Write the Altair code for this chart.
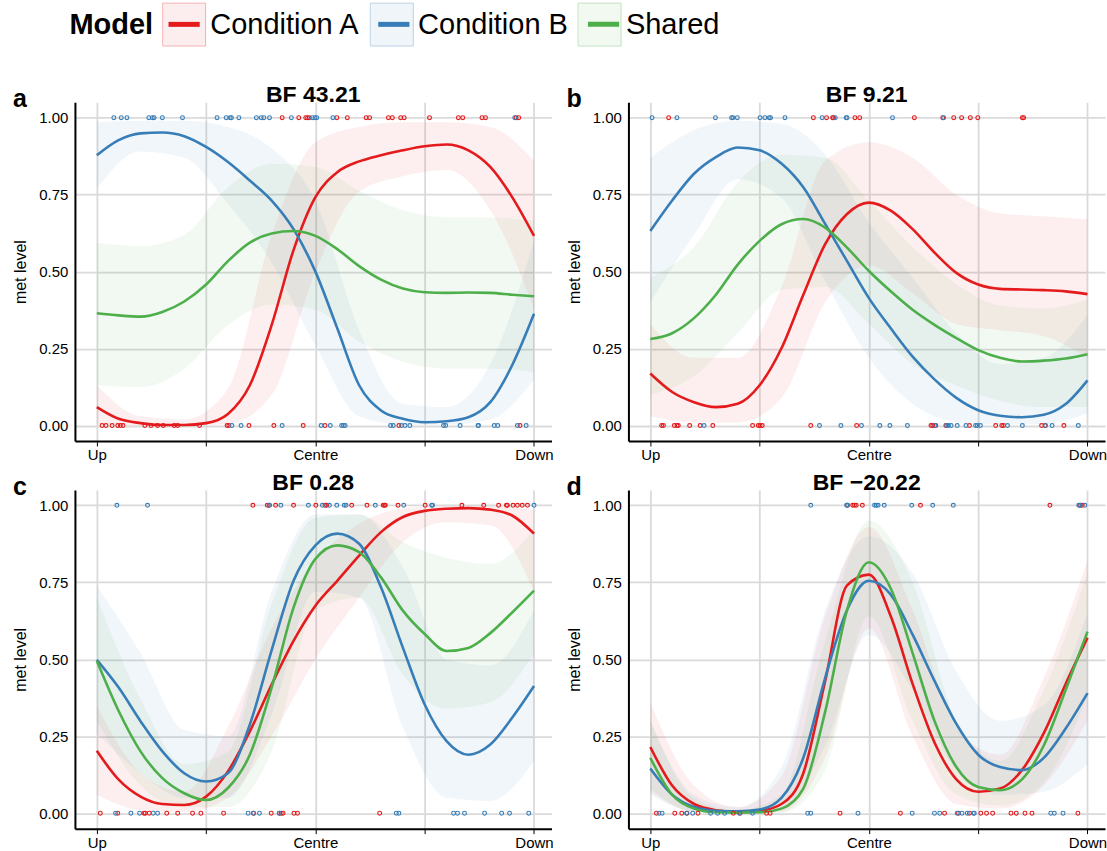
import altair as alt
import pandas as pd

FONT = "Liberation Sans"

models = ["Condition A", "Condition B", "Shared"]
model_colors = ["#E41A1C", "#377EB8", "#4DAF4A"]
panel_letters = ["a", "b", "c", "d"]
panel_titles = ["BF 43.21", "BF 9.21", "BF 0.28", "BF \u221220.22"]
x_tick_values = [0, 0.25, 0.5, 0.75, 1]
x_tick_labels = ["Up", "", "Centre", "", "Down"]
y_tick_values = [0, 0.25, 0.5, 0.75, 1]

# x positions of the fitted curves and of the ribbons
x_grid = [0.0, 0.05, 0.1, 0.15, 0.2, 0.25, 0.3, 0.35, 0.4, 0.45, 0.5,
          0.55, 0.6, 0.65, 0.7, 0.75, 0.8, 0.85, 0.9, 0.95, 1.0]
band_x = [0.0, 0.1, 0.2, 0.3, 0.4, 0.5, 0.6, 0.7, 0.8, 0.9, 1.0]

# ---------------- panel a ----------------
a_cond_a = [0.060, 0.022, 0.008, 0.002, 0.002, 0.008, 0.038, 0.131, 0.327, 0.570, 0.742,
            0.823, 0.858, 0.878, 0.894, 0.907, 0.913, 0.894, 0.840, 0.742, 0.616]
a_cond_b = [0.878, 0.927, 0.949, 0.952, 0.940, 0.905, 0.856, 0.796, 0.731, 0.638, 0.500,
            0.316, 0.131, 0.049, 0.022, 0.011, 0.014, 0.027, 0.076, 0.196, 0.363]
a_shared = [0.365, 0.358, 0.354, 0.369, 0.403, 0.458, 0.534, 0.594, 0.624, 0.632, 0.616,
            0.573, 0.518, 0.474, 0.445, 0.433, 0.431, 0.432, 0.431, 0.425, 0.420]
a_cond_a_lo = [0.005, 0.0, 0.0, 0.005, 0.10, 0.50, 0.76, 0.81, 0.83, 0.70, 0.38]
a_cond_a_hi = [0.13, 0.03, 0.02, 0.12, 0.62, 0.92, 0.97, 0.985, 0.985, 0.97, 0.86]
a_cond_b_lo = [0.77, 0.89, 0.87, 0.72, 0.53, 0.26, 0.03, 0.003, 0.003, 0.02, 0.15]
a_cond_b_hi = [0.985, 0.99, 0.99, 0.97, 0.90, 0.73, 0.31, 0.07, 0.06, 0.20, 0.60]
a_shared_lo = [0.131, 0.125, 0.185, 0.327, 0.393, 0.376, 0.273, 0.207, 0.185, 0.185, 0.174]
a_shared_hi = [0.594, 0.583, 0.62, 0.774, 0.85, 0.84, 0.763, 0.70, 0.676, 0.676, 0.665]
a_pts_a_top = [0.424, 0.462, 0.478, 0.482, 0.486, 0.549, 0.573, 0.616, 0.624, 0.667, 0.676,
               0.695, 0.703, 0.761, 0.827, 0.837, 0.881, 0.889, 0.959, 0.965]
a_pts_a_bottom = [0.012, 0.021, 0.035, 0.048, 0.054, 0.060, 0.110, 0.124, 0.139, 0.152, 0.177,
                  0.185, 0.235, 0.298, 0.302, 0.348, 0.405, 0.472, 0.522, 0.691, 0.968]
a_pts_b_top = [0.039, 0.056, 0.069, 0.119, 0.127, 0.131, 0.150, 0.196, 0.275, 0.296, 0.305,
               0.308, 0.325, 0.365, 0.376, 0.382, 0.395, 0.445, 0.493, 0.499, 0.503, 0.540, 0.956]
a_pts_b_bottom = [0.309, 0.330, 0.424, 0.513, 0.534, 0.560, 0.564, 0.568, 0.672, 0.678, 0.697,
                  0.705, 0.716, 0.793, 0.798, 0.831, 0.872, 0.873, 0.909, 0.917, 0.962, 0.982]

# ---------------- panel b ----------------
b_cond_a = [0.169, 0.109, 0.076, 0.060, 0.071, 0.131, 0.251, 0.425, 0.589, 0.687, 0.724,
            0.698, 0.638, 0.562, 0.496, 0.458, 0.444, 0.442, 0.440, 0.436, 0.427]
b_cond_b = [0.632, 0.731, 0.818, 0.872, 0.903, 0.894, 0.851, 0.774, 0.655, 0.534, 0.414,
            0.316, 0.224, 0.150, 0.090, 0.050, 0.032, 0.027, 0.035, 0.070, 0.147]
b_shared = [0.281, 0.300, 0.349, 0.425, 0.523, 0.600, 0.654, 0.671, 0.643, 0.578, 0.502,
            0.436, 0.376, 0.327, 0.284, 0.245, 0.220, 0.208, 0.211, 0.218, 0.232]
b_cond_a_lo = [0.03, 0.01, 0.01, 0.09, 0.40, 0.52, 0.43, 0.33, 0.31, 0.29, 0.22]
b_cond_a_hi = [0.33, 0.22, 0.22, 0.45, 0.86, 0.92, 0.87, 0.75, 0.69, 0.68, 0.67]
b_cond_b_lo = [0.40, 0.62, 0.80, 0.74, 0.47, 0.22, 0.07, 0.012, 0.003, 0.005, 0.04]
b_cond_b_hi = [0.87, 0.96, 0.99, 0.98, 0.88, 0.66, 0.48, 0.30, 0.20, 0.22, 0.36]
b_shared_lo = [0.10, 0.16, 0.30, 0.44, 0.45, 0.33, 0.20, 0.13, 0.08, 0.06, 0.06]
b_shared_hi = [0.48, 0.58, 0.79, 0.88, 0.87, 0.73, 0.58, 0.46, 0.39, 0.38, 0.41]
b_pts_a_top = [0.042, 0.373, 0.403, 0.417, 0.419, 0.468, 0.479, 0.604, 0.669, 0.694, 0.712,
               0.732, 0.749, 0.851, 0.854]
b_pts_a_bottom = [0.026, 0.030, 0.055, 0.061, 0.064, 0.090, 0.114, 0.143, 0.234, 0.247, 0.251,
                  0.256, 0.367, 0.472, 0.642, 0.646, 0.653, 0.676, 0.730, 0.790, 0.804, 0.808,
                  0.895, 0.903, 0.946]
b_pts_b_top = [0.004, 0.061, 0.149, 0.186, 0.189, 0.199, 0.251, 0.262, 0.272, 0.275, 0.308,
               0.393, 0.423, 0.448, 0.450, 0.554, 0.671]
b_pts_b_bottom = [0.123, 0.387, 0.436, 0.483, 0.525, 0.548, 0.588, 0.651, 0.678, 0.682, 0.688,
                  0.702, 0.722, 0.744, 0.748, 0.755, 0.817, 0.851, 0.904, 0.919, 0.979]

# ---------------- panel c ----------------
c_cond_a = [0.203, 0.109, 0.054, 0.030, 0.027, 0.054, 0.136, 0.266, 0.418, 0.560, 0.674,
            0.755, 0.837, 0.913, 0.962, 0.982, 0.989, 0.991, 0.986, 0.967, 0.908]
c_cond_b = [0.498, 0.408, 0.299, 0.201, 0.130, 0.103, 0.130, 0.288, 0.530, 0.755, 0.870,
            0.908, 0.875, 0.734, 0.538, 0.353, 0.234, 0.190, 0.223, 0.310, 0.413]
c_shared = [0.495, 0.332, 0.201, 0.114, 0.065, 0.043, 0.082, 0.190, 0.408, 0.668, 0.826,
            0.870, 0.848, 0.766, 0.658, 0.582, 0.527, 0.537, 0.585, 0.652, 0.723]
c_cond_a_lo = [0.06, 0.01, 0.004, 0.05, 0.25, 0.50, 0.70, 0.88, 0.945, 0.935, 0.72]
c_cond_a_hi = [0.35, 0.13, 0.07, 0.28, 0.60, 0.82, 0.94, 0.99, 0.998, 0.998, 0.985]
c_cond_b_lo = [0.26, 0.13, 0.05, 0.05, 0.32, 0.72, 0.70, 0.28, 0.05, 0.04, 0.17]
c_cond_b_hi = [0.74, 0.52, 0.27, 0.25, 0.72, 0.97, 0.97, 0.80, 0.50, 0.48, 0.66]
c_shared_lo = [0.30, 0.09, 0.02, 0.02, 0.20, 0.66, 0.70, 0.45, 0.34, 0.36, 0.52]
c_shared_hi = [0.70, 0.37, 0.16, 0.20, 0.68, 0.96, 0.97, 0.88, 0.83, 0.81, 0.92]
c_pts_a_top = [0.357, 0.390, 0.395, 0.409, 0.450, 0.501, 0.522, 0.526, 0.583, 0.618, 0.655,
               0.658, 0.660, 0.689, 0.751, 0.835, 0.885, 0.919, 0.937, 0.939, 0.952, 0.962,
               0.973, 0.985]
c_pts_a_bottom = [0.008, 0.048, 0.108, 0.111, 0.120, 0.160, 0.185, 0.219, 0.238, 0.290, 0.358,
                  0.399, 0.418, 0.422, 0.426, 0.451, 0.459, 0.647]
c_pts_b_top = [0.046, 0.116, 0.394, 0.421, 0.484, 0.516, 0.532, 0.549, 0.566, 0.570, 0.637,
               0.702, 0.766, 0.768, 1.000]
c_pts_b_bottom = [0.043, 0.078, 0.098, 0.129, 0.139, 0.346, 0.359, 0.372, 0.417, 0.685, 0.691,
                  0.816, 0.825, 0.841, 0.887, 0.926, 0.944, 0.988]

# ---------------- panel d ----------------
d_cond_a = [0.215, 0.090, 0.030, 0.010, 0.005, 0.008, 0.030, 0.130, 0.430, 0.740, 0.775,
            0.640, 0.420, 0.230, 0.110, 0.070, 0.080, 0.140, 0.260, 0.420, 0.570]
d_cond_b = [0.145, 0.060, 0.020, 0.008, 0.006, 0.012, 0.050, 0.180, 0.440, 0.660, 0.755,
            0.710, 0.580, 0.430, 0.290, 0.190, 0.150, 0.140, 0.180, 0.275, 0.390]
d_shared = [0.180, 0.060, 0.015, 0.003, 0.002, 0.003, 0.015, 0.080, 0.330, 0.660, 0.815,
            0.730, 0.520, 0.300, 0.150, 0.085, 0.075, 0.110, 0.220, 0.400, 0.590]
d_cond_a_lo = [0.07, 0.005, 0.0, 0.005, 0.18, 0.60, 0.25, 0.03, 0.015, 0.09, 0.30]
d_cond_a_hi = [0.36, 0.09, 0.02, 0.12, 0.64, 0.93, 0.66, 0.28, 0.19, 0.44, 0.82]
d_cond_b_lo = [0.06, 0.005, 0.001, 0.01, 0.22, 0.58, 0.40, 0.14, 0.06, 0.07, 0.16]
d_cond_b_hi = [0.30, 0.06, 0.02, 0.15, 0.66, 0.90, 0.78, 0.46, 0.30, 0.35, 0.65]
d_shared_lo = [0.08, 0.003, 0.0, 0.002, 0.14, 0.64, 0.30, 0.06, 0.025, 0.10, 0.38]
d_shared_hi = [0.30, 0.05, 0.01, 0.06, 0.56, 0.95, 0.75, 0.30, 0.17, 0.40, 0.78]
d_pts_a_top = [0.451, 0.463, 0.467, 0.471, 0.485, 0.618, 0.914, 0.984, 0.988]
d_pts_a_bottom = [0.014, 0.056, 0.072, 0.084, 0.109, 0.190, 0.205, 0.266, 0.274, 0.434, 0.572,
                  0.673, 0.705, 0.730, 0.756, 0.769, 0.783, 0.825, 0.837, 0.857, 0.873, 0.978]
d_pts_b_top = [0.367, 0.449, 0.451, 0.513, 0.517, 0.521, 0.535, 0.598, 0.646, 0.693, 0.980,
               0.982, 0.994]
d_pts_b_bottom = [0.020, 0.027, 0.083, 0.097, 0.138, 0.154, 0.170, 0.204, 0.234, 0.360, 0.367,
                  0.475, 0.599, 0.650, 0.662, 0.702, 0.713, 0.725, 0.739, 0.741, 0.916, 0.924,
                  0.944]

panels = [
    ([a_cond_a, a_cond_b, a_shared],
     [(a_cond_a_lo, a_cond_a_hi), (a_cond_b_lo, a_cond_b_hi), (a_shared_lo, a_shared_hi)],
     [(a_pts_a_top, a_pts_a_bottom), (a_pts_b_top, a_pts_b_bottom)]),
    ([b_cond_a, b_cond_b, b_shared],
     [(b_cond_a_lo, b_cond_a_hi), (b_cond_b_lo, b_cond_b_hi), (b_shared_lo, b_shared_hi)],
     [(b_pts_a_top, b_pts_a_bottom), (b_pts_b_top, b_pts_b_bottom)]),
    ([c_cond_a, c_cond_b, c_shared],
     [(c_cond_a_lo, c_cond_a_hi), (c_cond_b_lo, c_cond_b_hi), (c_shared_lo, c_shared_hi)],
     [(c_pts_a_top, c_pts_a_bottom), (c_pts_b_top, c_pts_b_bottom)]),
    ([d_cond_a, d_cond_b, d_shared],
     [(d_cond_a_lo, d_cond_a_hi), (d_cond_b_lo, d_cond_b_hi), (d_shared_lo, d_shared_hi)],
     [(d_pts_a_top, d_pts_a_bottom), (d_pts_b_top, d_pts_b_bottom)]),
]

PANEL_W = 477
PANEL_H = 339

label_expr = "".join(
    f"datum.value == {v} ? '{l}' : " for v, l in zip(x_tick_values, x_tick_labels)
) + "''"

x_scale = alt.Scale(domain=[-0.05, 1.04], nice=False, zero=False)
y_scale = alt.Scale(domain=[-0.05, 1.05], nice=False, zero=False)

x_axis = alt.Axis(values=x_tick_values, labelExpr=label_expr, title=None, grid=True,
                  ticks=True, tickSize=5, tickWidth=1, tickColor="black",
                  labelPadding=2, labelAngle=0)
y_axis = alt.Axis(values=y_tick_values, format=".2f", title="met level", grid=True,
                  ticks=False, labelPadding=7, titlePadding=10)

LEG_FONT_SIZE = 29
LEG_X = -5.5
LEG_Y = -100
LEG_TITLE_PAD = 9
LEG_LABEL_OFFSET = 4
LEG_COL_PAD = 8
# advance widths (Arial/Liberation metrics, em units) used to align the key overlays
TITLE_EM = 2.889        # "Model" in bold
LABEL_EM = 5.169        # "Condition A" / "Condition B"

# visible legend: light key background (from the ribbons) with title and labels
fill_legend = alt.Legend(
    title="Model", orient="none", legendX=LEG_X, legendY=LEG_Y,
    direction="horizontal", titleOrient="left", titlePadding=LEG_TITLE_PAD,
    titleFont=FONT, titleFontSize=LEG_FONT_SIZE, titleFontWeight="bold",
    titleColor="black", labelFont=FONT, labelFontSize=LEG_FONT_SIZE,
    labelColor="black", labelOffset=LEG_LABEL_OFFSET, labelLimit=500,
    columnPadding=LEG_COL_PAD, padding=0,
    symbolType="square", symbolSize=1849, symbolStrokeWidth=1,
    symbolStrokeColor="transparent", symbolOpacity=0.07,
)

overlay_common = dict(
    title=None, orient="none",
    legendX=LEG_X + TITLE_EM * LEG_FONT_SIZE + LEG_TITLE_PAD, legendY=LEG_Y,
    direction="horizontal", labelExpr="''", labelOffset=LEG_LABEL_OFFSET,
    labelFontSize=LEG_FONT_SIZE, labelFont=FONT,
    columnPadding=LABEL_EM * LEG_FONT_SIZE + LEG_COL_PAD, padding=0,
)
# key border (from the observation points)
border_legend = alt.Legend(
    symbolType="square", symbolSize=1849, symbolStrokeWidth=1, symbolOpacity=0.3,
    **overlay_common,
)
# thick line in the key (from the fitted curves)
stroke_legend = alt.Legend(
    symbolType="M-0.8,0H0.8", symbolSize=1521, symbolStrokeWidth=5,
    **overlay_common,
)

fill_scale = alt.Scale(range=model_colors)
stroke_scale = alt.Scale(range=model_colors)
point_scale = alt.Scale(domain=models, range=model_colors)


def build_panel(idx):
    curves, bands, pts = panels[idx]
    line_rows = []
    for m, ys in zip(models, curves):
        for x, y in zip(x_grid, ys):
            line_rows.append({"x": x, "y": y, "model": m})
    band_rows = []
    for m, (lo, hi) in zip(models, bands):
        for x, l, h in zip(band_x, lo, hi):
            band_rows.append({"x": x, "lo": l, "hi": h, "band": m})
    pt_rows = []
    for m, (top, bottom) in zip(models[:2], pts):
        for x in top:
            pt_rows.append({"x": x, "y": 1.0, "obs": m})
        for x in bottom:
            pt_rows.append({"x": x, "y": 0.0, "obs": m})

    area = alt.Chart(pd.DataFrame(band_rows)).mark_area(
        interpolate="monotone", fillOpacity=0.07, opacity=1, strokeWidth=0
    ).encode(
        x=alt.X("x:Q", scale=x_scale, axis=x_axis),
        y=alt.Y("lo:Q", scale=y_scale, axis=y_axis),
        y2=alt.Y2("hi:Q"),
        fill=alt.Fill("band:N", scale=fill_scale, legend=fill_legend),
    )
    line = alt.Chart(pd.DataFrame(line_rows)).mark_line(
        interpolate="monotone", strokeWidth=2.6
    ).encode(
        x=alt.X("x:Q", scale=x_scale, axis=x_axis),
        y=alt.Y("y:Q", scale=y_scale, axis=y_axis),
        stroke=alt.Stroke("model:N", scale=stroke_scale, legend=stroke_legend),
    )
    points = alt.Chart(pd.DataFrame(pt_rows)).mark_point(
        shape="circle", filled=False, size=15, strokeWidth=1.1, opacity=1
    ).encode(
        x=alt.X("x:Q", scale=x_scale, axis=x_axis),
        y=alt.Y("y:Q", scale=y_scale, axis=y_axis),
        color=alt.Color("obs:N", scale=point_scale, legend=border_legend),
    )
    letter = alt.Chart(pd.DataFrame({"t": [panel_letters[idx]]})).mark_text(
        align="left", baseline="alphabetic", fontSize=25, fontWeight="bold",
        font=FONT, color="black"
    ).encode(x=alt.value(-62), y=alt.value(5), text="t:N")

    return alt.layer(area, line, points, letter).properties(
        width=PANEL_W, height=PANEL_H,
        title=alt.TitleParams(panel_titles[idx], font=FONT, fontSize=23,
                              fontWeight="bold", color="black", anchor="middle",
                              offset=-20),
    )


chart = alt.concat(
    *[build_panel(i) for i in range(4)],
    columns=2, spacing={"row": 49, "column": 77}, bounds="flush",
).properties(
    padding={"left": 12, "top": 2, "right": 0, "bottom": 0},
).configure_view(stroke=None).configure_axis(
    labelFont=FONT, titleFont=FONT, labelFontSize=15, titleFontSize=16,
    labelColor="black", titleColor="black", titleFontWeight="normal",
    gridColor="#DADADA", gridWidth=1.8, domainColor="black", domainWidth=2,
)

chart.save("out.html", embed_options={"renderer": "svg", "actions": False})
